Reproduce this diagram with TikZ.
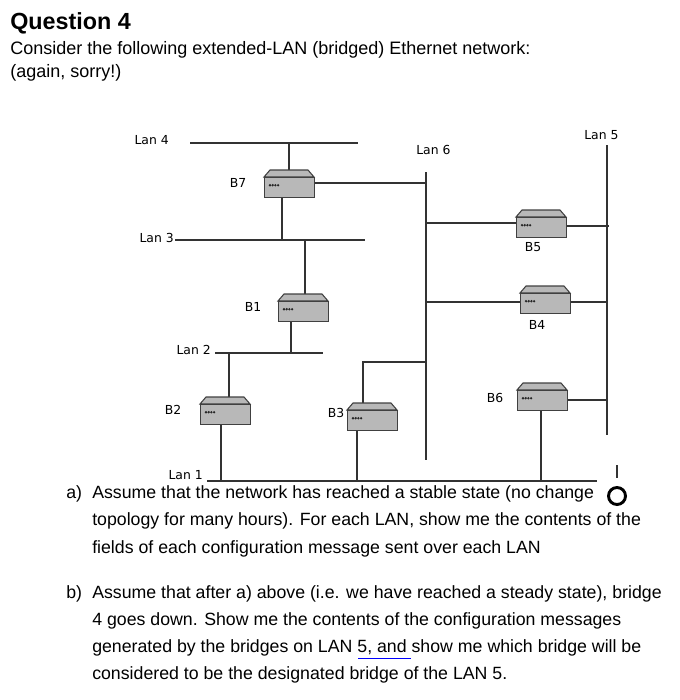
\documentclass[tikz,border=0pt]{standalone}
\usepackage{fontspec}
\setmainfont{Liberation Sans}
\newfontfamily\dv{DejaVu Sans}
\begin{document}
\begin{tikzpicture}[x=0.75pt,y=-0.75pt,
  lan/.style={line width=0.9pt,draw=black!80},
  lbl/.style={font=\dv\fontsize{9.3}{10}\selectfont,inner sep=0pt},
  txt/.style={font=\fontsize{13.3}{15}\selectfont,anchor=west,inner sep=0pt}]
\useasboundingbox (0,0) rectangle (680,700);
\newcommand\bridge[3]{% name, x, y (box top-left)
  \fill[black!28,draw=black!75,line width=0.8pt] (#2,#3) -- (#2+6,#3-7) -- (#2+44,#3-7) -- (#2+50,#3) -- cycle;
  \node[draw=black!75,fill=black!28,line width=0.8pt,minimum width=37.5pt,minimum height=15pt,inner sep=0pt,anchor=north west] (#1) at (#2,#3) {};
  \foreach \d in {0,1,2,3} \fill[black!85] (#2+6+\d*2.7,#3+8.2) circle (1.3);
}
% text
\node[anchor=west,inner sep=0pt,font=\bfseries\fontsize{17.5}{19}\selectfont] (q) at (10,23) {Question 4};
\node[txt,font=\fontsize{13.5}{15}\selectfont] (t1) at (10,50) {Consider the following extended-LAN (bridged) Ethernet network:};
\node[txt,font=\fontsize{13.5}{15}\selectfont] (t2) at (10,73) {(again, sorry!)};
% LANs
\draw[lan] (190,143) coordinate(l4a) -- (358,143) coordinate(l4b);
\draw[lan] (175,240) coordinate(l3a) -- (365,240) coordinate(l3b);
\draw[lan] (215,353) coordinate(l2a) -- (323,353) coordinate(l2b);
\draw[lan] (207,481) coordinate(l1a) -- (597,481) coordinate(l1b);
\draw[lan] (426,172) coordinate(l6a) -- (426,460) coordinate(l6b);
\draw[lan] (607,145) coordinate(l5a) -- (607,435) coordinate(l5b);
\draw[lan] (617,465) coordinate(ta) -- (617,478) coordinate(tb);
\node[lbl,anchor=east] (n4) at (169,140) {Lan 4};
\node[lbl,anchor=east] (n3) at (174,238) {Lan 3};
\node[lbl,anchor=east] (n2) at (211,350) {Lan 2};
\node[lbl,anchor=east] (n1) at (203,475) {Lan 1};
\node[lbl,anchor=west] (n6) at (416,150) {Lan 6};
\node[lbl,anchor=west] (n5) at (584,135) {Lan 5};
% links
\draw[lan] (289,143) -- (289,172);
\draw[lan] (314,183) -- (426,183);
\draw[lan] (282,197) -- (282,240);
\draw[lan] (305,240) -- (305,295);
\draw[lan] (291,321) -- (291,353);
\draw[lan] (229,353) -- (229,398);
\draw[lan] (221,424) -- (221,481);
\draw[lan] (363,404) -- (363,362) -- (426,362);
\draw[lan] (357,430) -- (357,481);
\draw[lan] (426,223) -- (516,223);
\draw[lan] (565,226) -- (609,226);
\draw[lan] (426,302) -- (520,302);
\draw[lan] (569,302) -- (607,302);
\draw[lan] (567,400) -- (607,400);
\draw[lan] (541,410) -- (541,481);
% bridges
\bridge{b7}{264}{177}
\bridge{b1}{278}{301}
\bridge{b2}{200}{404}
\bridge{b3}{347}{410}
\bridge{b5}{516}{217}
\bridge{b4}{520}{293}
\bridge{b6}{517}{390}
\node[lbl] (lb7) at (238,183) {B7};
\node[lbl] (lb1) at (253,307) {B1};
\node[lbl] (lb2) at (173,410) {B2};
\node[lbl] (lb3) at (336,413) {B3};
\node[lbl] (lb5) at (533,247) {B5};
\node[lbl] (lb4) at (537,325) {B4};
\node[lbl] (lb6) at (495,398) {B6};
% questions
\node[txt] (a) at (66,494) {a)};
\node[txt] (a1) at (92,494) {Assume that the network has reached a stable state (no change};
\node[txt] (a2) at (92,521) {topology for many hours). For each LAN, show me the contents of the};
\node[txt] (a3) at (92,549) {fields of each configuration message sent over each LAN};
\draw[line width=2.2pt] (617,496) circle (8.5);
\node[txt] (b) at (66,594) {b)};
\node[txt] (b1) at (92,594) {Assume that after a) above (i.e. we have reached a steady state), bridge};
\node[txt] (b2) at (92,621) {4 goes down. Show me the contents of the configuration messages};
\node[txt] (b3) at (92,648) {generated by the bridges on LAN 5, and show me which bridge will be};
\node[txt] (b4) at (92,675) {considered to be the designated bridge of the LAN 5.};
\draw[blue,line width=0.8pt] (358,658.5) -- (411,658.5);
\end{tikzpicture}
\end{document}
